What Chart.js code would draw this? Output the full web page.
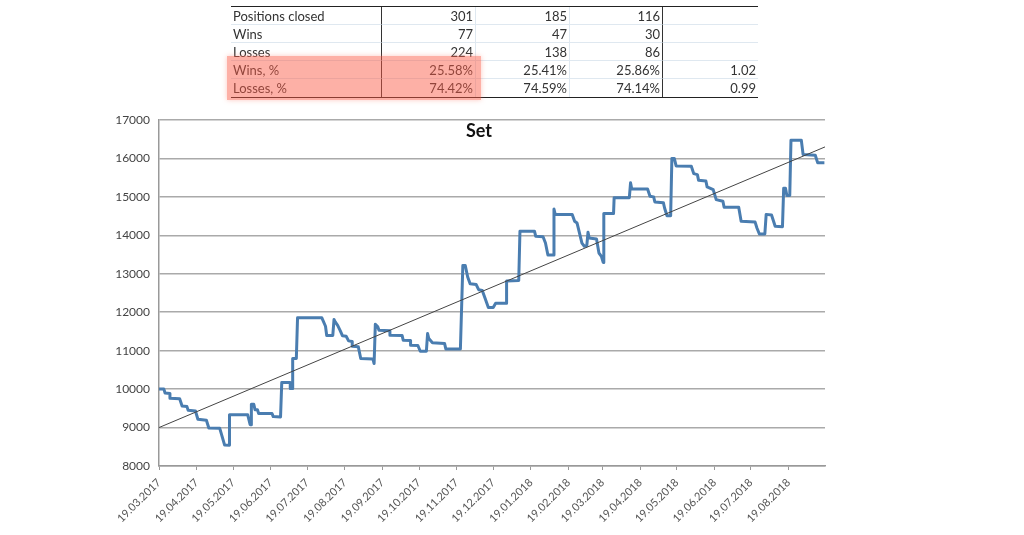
<!DOCTYPE html>
<html>
<head>
<meta charset="utf-8">
<title>Set</title>
<script src="https://cdn.jsdelivr.net/npm/chart.js@4"></script>
<style>
  html, body { margin: 0; padding: 0; background: #fff; width: 1024px; height: 535px; overflow: hidden; }
  #stats { position: absolute; left: 231px; top: 6px; width: 527px; border-collapse: separate; border-spacing: 0; table-layout: fixed;
           font: 13px Lato, sans-serif; color: #333; border-top: 1.5px solid #222; border-bottom: 1.5px solid #222; }
  #stats td { height: 16px; padding: 1px 2px 0; border-bottom: 1px solid #dfe8f0; text-align: right; box-sizing: content-box; line-height: 16px; }
  #stats tr:last-child td { border-bottom: none; padding-bottom: 1px; }
  #stats td:first-child { text-align: left; border-right: 1.5px solid #333; }
  #stats td:nth-child(2), #stats td:nth-child(3) { border-right: 1px solid #dfe8f0; }
  #stats td:nth-child(4) { border-right: 1.5px solid #333; }
  #highlight { position: absolute; left: 227px; top: 56px; width: 254px; height: 44px; background: rgba(250, 90, 70, .48); box-shadow: 0 0 5px rgba(250, 120, 100, .4); }
  #chartTitle { position: absolute; left: 440px; width: 78px; top: 119px; text-align: center; font: bold 18px Lato, sans-serif; color: #111; }
  #wrap { position: absolute; left: 0; top: 0; width: 1024px; height: 535px; }
</style>
</head>
<body>
<div id="wrap"><canvas id="chart" width="1024" height="535"></canvas></div>
<div id="chartTitle">Set</div>
<table id="stats"></table>
<div id="highlight"></div>
<script>
const rowNames = ['Positions closed', 'Wins', 'Losses', 'Wins, %', 'Losses, %'];
const colAll = ['301', '77', '224', '25.58%', '74.42%'];
const colLong = ['185', '47', '138', '25.41%', '74.59%'];
const colShort = ['116', '30', '86', '25.86%', '74.14%'];
const colRatio = ['', '', '', '1.02', '0.99'];

const tickDays = [0, 31, 61, 92, 122, 153, 184, 214, 245, 275, 306, 337, 365, 396, 426, 457, 487, 518];
const tickLabels = ['19.03.2017', '19.04.2017', '19.05.2017', '19.06.2017', '19.07.2017', '19.08.2017', '19.09.2017',
  '19.10.2017', '19.11.2017', '19.12.2017', '19.01.2018', '19.02.2018', '19.03.2018', '19.04.2018', '19.05.2018',
  '19.06.2018', '19.07.2018', '19.08.2018'];

// days since 19.03.2017
const equityDays = [0, 4, 5, 9, 9, 17, 19, 23, 24, 30, 32, 39, 41, 50, 54, 58, 58, 73, 75, 76, 76, 78, 79, 81, 82, 93, 94, 100,
  101, 108, 108, 110, 110, 113, 114, 134, 137, 138, 143, 144, 145, 147, 149, 151, 154, 156, 159, 159, 164, 166, 176, 177,
  178, 180, 181, 190, 190, 200, 201, 207, 207, 213, 215, 220, 221, 222, 225, 235, 236, 248, 250, 252, 254, 256, 261, 263,
  266, 268, 271, 275, 277, 286, 286, 296, 297, 309, 310, 316, 318, 320, 325, 325, 326, 340, 342, 344, 348, 350, 352, 353,
  354, 360, 362, 364, 365.5, 366, 374, 374.5, 387, 388, 389, 402, 404, 407, 408, 415, 416, 418, 421, 422, 424, 425.5, 438,
  440, 443, 444, 450, 451, 456, 458.5, 464, 465, 477, 479, 490.5, 492, 494, 498.5, 499.6, 504, 507, 513, 514, 515.5, 516.6,
  519, 520, 528.5, 530, 540, 542, 547.5];
const equityValues = [10000, 10000, 9900, 9885, 9760, 9750, 9560, 9545, 9450, 9430, 9215, 9190, 8990, 8980, 8545, 8540, 9330,
  9330, 9075, 9075, 9605, 9605, 9465, 9465, 9365, 9365, 9285, 9275, 10170, 10170, 10015, 10015, 10795, 10795, 11855, 11855,
  11635, 11395, 11395, 11810, 11750, 11660, 11530, 11385, 11375, 11255, 11240, 11115, 11100, 10795, 10785, 10665, 11690,
  11620, 11530, 11515, 11400, 11395, 11270, 11265, 11140, 11135, 10985, 10985, 11445, 11315, 11205, 11185, 11045, 11045,
  13215, 13215, 12915, 12740, 12720, 12585, 12565, 12390, 12125, 12125, 12235, 12235, 12810, 12825, 14105, 14105, 13975,
  13965, 13800, 13490, 13490, 14685, 14545, 14545, 14365, 14320, 13800, 13715, 13730, 14080, 13930, 13905, 13540, 13455,
  13295, 14565, 14565, 14980, 14980, 15365, 15205, 15205, 15015, 15000, 14870, 14850, 14710, 14510, 14510, 16000, 16000,
  15805, 15795, 15605, 15580, 15430, 15415, 15260, 15190, 14930, 14885, 14730, 14730, 14365, 14345, 14190, 14035, 14035,
  14545, 14530, 14235, 14225, 15225, 15225, 15035, 15035, 16475, 16475, 16100, 16085, 15885, 15885];

const trendDays = [0, 548];
const trendValues = [9000, 16300];

const table = document.getElementById('stats');
rowNames.forEach((name, i) => {
  const tr = table.insertRow();
  [name, colAll[i], colLong[i], colShort[i], colRatio[i]].forEach(text => {
    tr.insertCell().textContent = text;
  });
});
// column widths
const widths = [151, 94, 94, 93, 95];
const cg = document.createElement('colgroup');
widths.forEach(w => {
  const c = document.createElement('col');
  c.style.width = w + 'px';
  cg.appendChild(c);
});
table.insertBefore(cg, table.firstChild);

const ctx = document.getElementById('chart').getContext('2d');
new Chart(ctx, {
  type: 'line',
  data: {
    datasets: [{
      data: trendDays.map((d, i) => ({ x: d, y: trendValues[i] })),
      borderColor: '#444',
      borderWidth: 1,
      pointRadius: 0,
      order: 0
    }, {
      data: equityDays.map((d, i) => ({ x: d, y: equityValues[i] })),
      borderColor: '#4a7db0',
      borderWidth: 3,
      borderJoinStyle: 'round',
      pointRadius: 0,
      tension: 0,
      order: 1
    }]
  },
  options: {
    responsive: false,
    animation: false,
    devicePixelRatio: 1,
    layout: { padding: { left: 100, top: 120, right: 199, bottom: 9 } },
    plugins: { legend: { display: false }, tooltip: { enabled: false } },
    scales: {
      x: {
        type: 'linear',
        min: 0,
        max: 548,
        afterBuildTicks: axis => { axis.ticks = tickDays.map(v => ({ value: v })); },
        afterFit: axis => { axis.height = 60; },
        grid: { drawOnChartArea: false, drawTicks: true, tickLength: 4, color: '#999' },
        border: { color: '#999', width: 1.5 },
        ticks: {
          autoSkip: false,
          minRotation: 45,
          maxRotation: 45,
          padding: 6,
          color: '#555',
          font: { family: 'Lato', size: 11 },
          callback: value => tickLabels[tickDays.indexOf(value)]
        }
      },
      y: {
        min: 8000,
        max: 17000,
        afterFit: axis => { axis.width = 59; },
        grid: { color: '#aaa', lineWidth: 1.5, drawTicks: false },
        border: { color: '#999', width: 1.5 },
        ticks: {
          stepSize: 1000,
          padding: 9,
          color: '#444',
          font: { family: 'Lato', size: 12 },
          callback: value => String(value)
        }
      }
    }
  }
});
</script>
</body>
</html>
